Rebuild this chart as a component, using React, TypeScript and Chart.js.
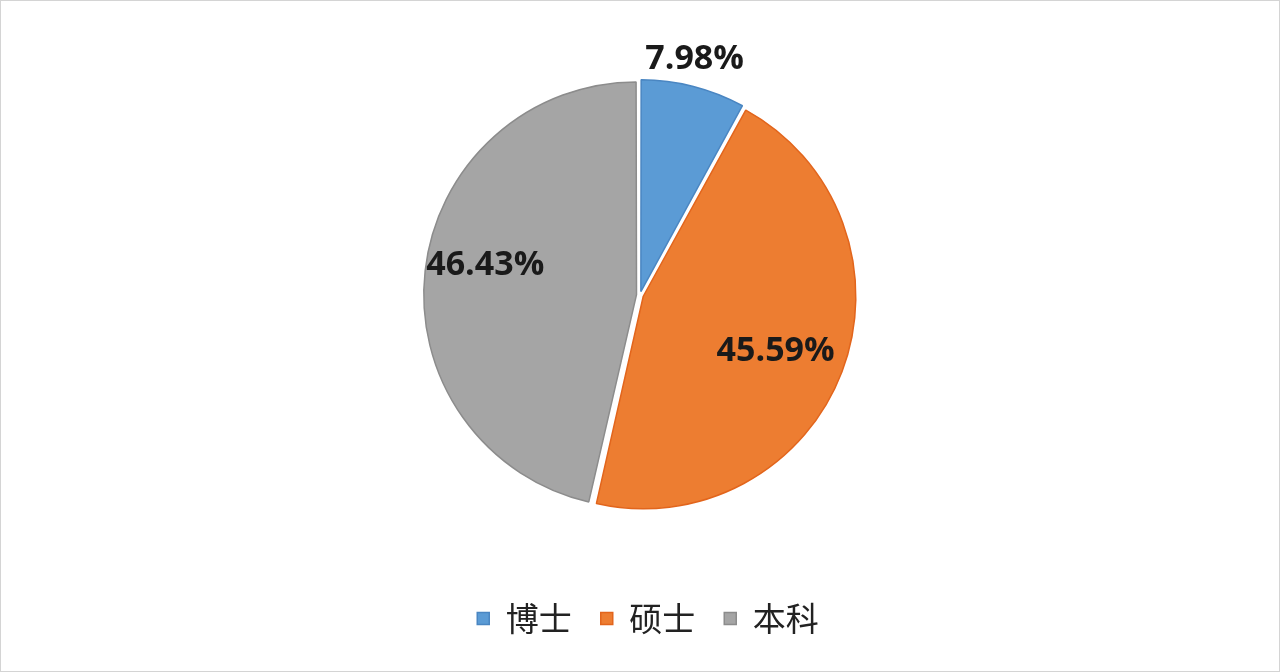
import { useEffect, useRef } from "react"
import { Chart, registerables, type Plugin } from "chart.js"

Chart.register(...registerables)

const categories = ["博士", "硕士", "本科"]
const shares = [7.98, 45.59, 46.43]
const fillColors = ["#5B9BD5", "#ED7D31", "#A5A5A5"]
const edgeColors = ["#4A86C2", "#E2651C", "#8C8C8C"]
// where each percentage sits: share of the radius, and a small turn (degrees) off the slice middle
const labelReach = [1.15, 0.7, 0.75]
const labelTurn = [-1.3, 1.9, 4.3]

const percentLabels: Plugin<"pie"> = {
  id: "percentLabels",
  afterDatasetsDraw(chart) {
    const { ctx } = chart
    const meta = chart.getDatasetMeta(0)
    ctx.save()
    ctx.font = "bold 34px 'Open Sans', 'DejaVu Sans', sans-serif"
    ctx.fillStyle = "#1a1a1a"
    ctx.textAlign = "center"
    ctx.textBaseline = "middle"
    meta.data.forEach((el: any, i: number) => {
      const { x, y, startAngle, endAngle, outerRadius } = el.getProps(
        ["x", "y", "startAngle", "endAngle", "outerRadius"],
        true
      )
      const mid = (startAngle + endAngle) / 2 + (labelTurn[i] * Math.PI) / 180
      const r = outerRadius * labelReach[i]
      ctx.fillText(shares[i].toFixed(2) + "%", x + Math.cos(mid) * r, y + Math.sin(mid) * r)
    })
    ctx.restore()
  },
}

// chart.js counts the trailing item padding when centring the legend row; undo that
const legendNudge: Plugin<"pie"> = {
  id: "legendNudge",
  afterLayout(chart) {
    const legend: any = chart.legend
    if (legend) legend.left += 16
  },
}

export default function App() {
  const canvasRef = useRef<HTMLCanvasElement>(null)

  useEffect(() => {
    document.body.style.margin = "0"
    if (!canvasRef.current) return
    const chart = new Chart(canvasRef.current, {
      type: "pie",
      data: {
        labels: categories,
        datasets: [
          {
            data: shares,
            backgroundColor: fillColors,
            borderColor: edgeColors,
            borderWidth: 1.5,
            offset: 14,
          },
        ],
      },
      options: {
        animation: false,
        responsive: true,
        maintainAspectRatio: false,
        radius: 210,
        layout: { padding: { top: 16, bottom: 26 } },
        plugins: {
          tooltip: { enabled: false },
          legend: {
            position: "bottom",
            labels: {
              boxWidth: 12,
              boxHeight: 12,
              padding: 29,
              color: "#222222",
              font: { size: 33, family: "'Noto Sans CJK SC', sans-serif" },
            },
          },
        },
      },
      plugins: [percentLabels, legendNudge],
    })
    return () => chart.destroy()
  }, [])

  return (
    <div
      style={{
        position: "fixed",
        left: 0,
        top: 0,
        width: 1280,
        height: 672,
        boxSizing: "border-box",
        border: "1px solid #d4d4d4",
        background: "#ffffff",
      }}
    >
      <canvas ref={canvasRef} />
    </div>
  )
}
